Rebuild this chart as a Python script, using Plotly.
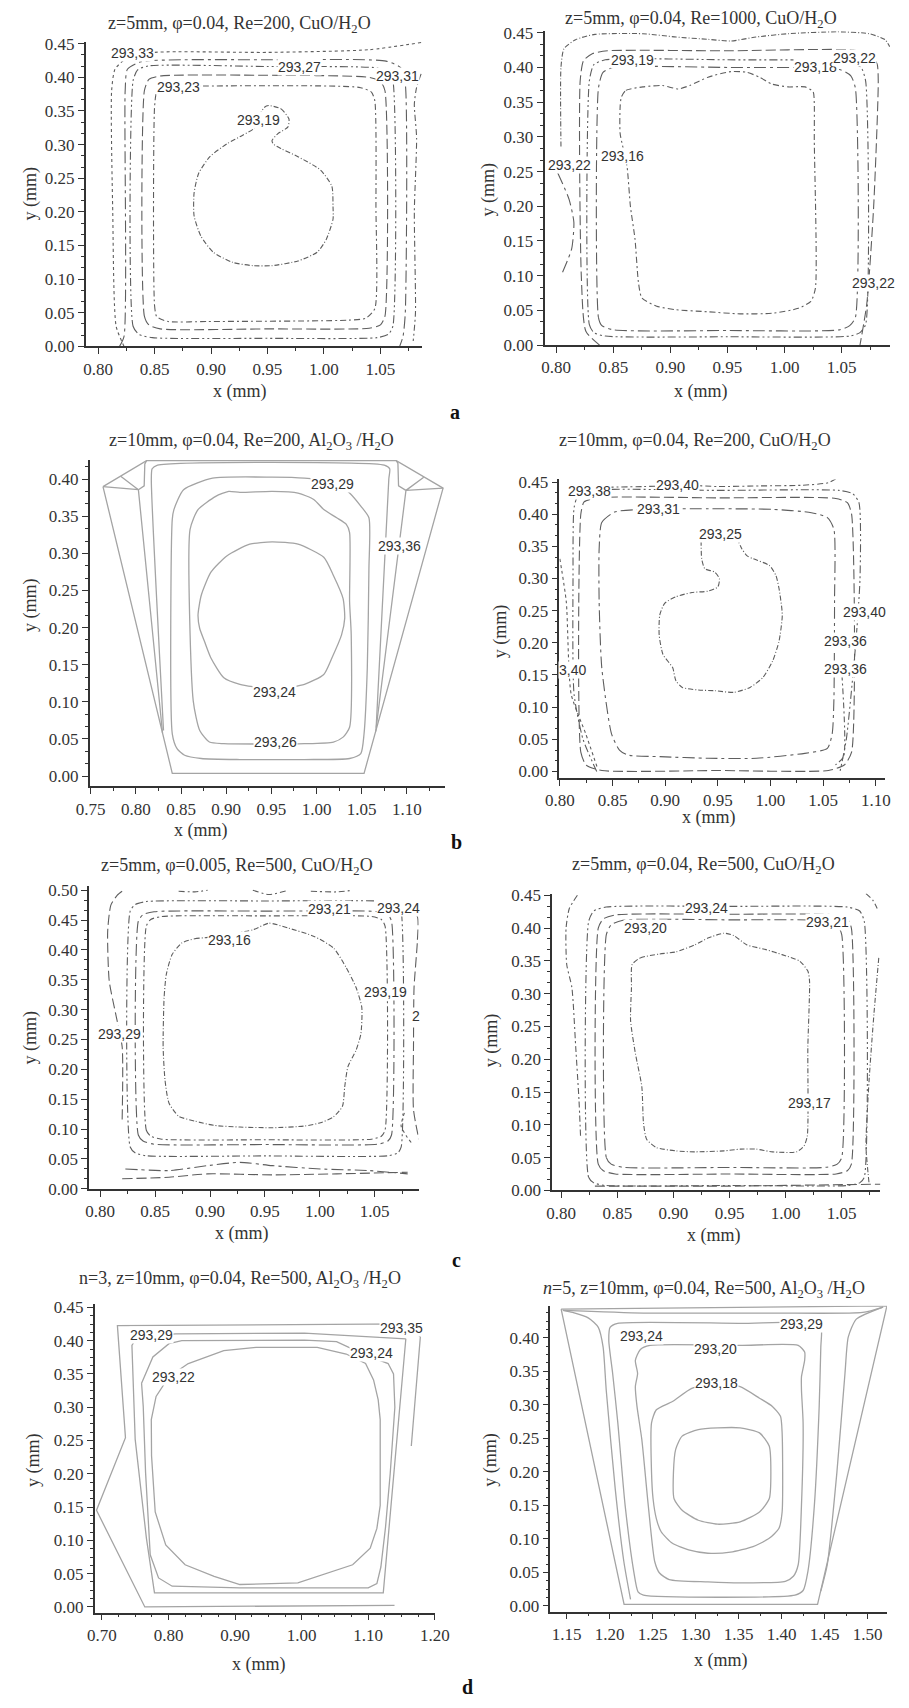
import plotly.graph_objects as go

W, H = 909, 1708
SERIF = "Liberation Serif, Times New Roman, serif"
SANS = "Liberation Sans, Arial, sans-serif"
INK = "#333333"
DARK = "#5e5e5e"
LIGHT = "#a4a4a4"

# ---------------- (a) left: z=5mm, phi=0.04, Re=200, CuO/H2O ----------------
a1_core_x = [0.951, 0.962, 0.969, 0.968, 0.959, 0.954, 0.955, 0.962, 0.977, 0.997, 1.007, 1.008, 1.008, 1.002, 0.994, 0.977, 0.954, 0.937, 0.919, 0.902, 0.891, 0.885, 0.885, 0.889, 0.899, 0.914, 0.928, 0.938, 0.942, 0.947, 0.951]
a1_core_y = [0.358, 0.353, 0.338, 0.326, 0.316, 0.306, 0.301, 0.294, 0.282, 0.262, 0.238, 0.208, 0.189, 0.159, 0.140, 0.127, 0.120, 0.120, 0.125, 0.140, 0.164, 0.194, 0.228, 0.257, 0.282, 0.301, 0.314, 0.324, 0.341, 0.355, 0.358]
a1_ring1_x = [0.850, 0.850, 0.852, 0.862, 0.897, 1.022, 1.037, 1.045, 1.046, 1.045, 1.042, 1.031, 0.897, 0.859, 0.852, 0.850]
a1_ring1_y = [0.355, 0.061, 0.044, 0.037, 0.037, 0.039, 0.042, 0.056, 0.208, 0.365, 0.378, 0.385, 0.387, 0.385, 0.378, 0.355]
a1_ring2_x = [0.841, 0.841, 0.845, 0.855, 0.95, 1.040, 1.050, 1.054, 1.054, 1.050, 1.040, 0.95, 0.855, 0.845, 0.841]
a1_ring2_y = [0.380, 0.045, 0.032, 0.026, 0.026, 0.027, 0.032, 0.045, 0.380, 0.394, 0.400, 0.403, 0.402, 0.397, 0.380]
a1_ring3_x = [0.831, 0.831, 0.836, 0.848, 0.95, 1.047, 1.057, 1.061, 1.061, 1.057, 1.047, 0.95, 0.845, 0.835, 0.831]
a1_ring3_y = [0.395, 0.030, 0.018, 0.013, 0.012, 0.013, 0.018, 0.030, 0.395, 0.408, 0.414, 0.416, 0.417, 0.411, 0.395]
a1_ring4_x = [0.819, 0.823, 0.824, 0.826, 0.838, 0.95, 1.055, 1.068, 1.072, 1.072, 1.070, 1.067]
a1_ring4_y = [0.0, 0.015, 0.380, 0.412, 0.423, 0.426, 0.424, 0.414, 0.390, 0.050, 0.015, 0.0]
a1_ring5_x = [0.823, 0.816, 0.813, 0.812, 0.815, 0.825, 0.85, 0.95, 1.04, 1.087]
a1_ring5_y = [0.0, 0.03, 0.2, 0.38, 0.412, 0.428, 0.437, 0.437, 0.441, 0.452]
a1_edge_x = [1.086, 1.082, 1.080, 1.082, 1.080, 1.081, 1.079]
a1_edge_y = [0.405, 0.385, 0.36, 0.31, 0.2, 0.05, 0.008]
a1_lab_text = ["293,33", "293,27", "293,31", "293,23", "293,19"]
a1_lab_x = [0.8303, 0.978, 1.0651, 0.8714, 0.9423]
a1_lab_y = [0.4363, 0.4152, 0.402, 0.3863, 0.3358]

# ---------------- (a) right: z=5mm, phi=0.04, Re=1000, CuO/H2O ----------------
a2_core_x = [0.857, 0.861, 0.876, 0.893, 0.907, 0.917, 0.933, 0.953, 0.967, 0.978, 0.989, 1.003, 1.018, 1.025, 1.026, 1.026, 1.027, 1.023, 1.012, 0.99, 0.961, 0.933, 0.905, 0.888, 0.875, 0.872, 0.869, 0.865, 0.862, 0.856, 0.856, 0.857]
a2_core_y = [0.357, 0.367, 0.372, 0.374, 0.369, 0.374, 0.386, 0.394, 0.393, 0.386, 0.376, 0.372, 0.372, 0.365, 0.348, 0.296, 0.082, 0.063, 0.053, 0.046, 0.045, 0.048, 0.051, 0.056, 0.068, 0.091, 0.153, 0.2, 0.258, 0.305, 0.343, 0.357]
a2_ring1_x = [0.837, 0.837, 0.840, 0.850, 0.95, 1.048, 1.057, 1.062, 1.062, 1.058, 1.048, 0.95, 0.850, 0.841, 0.837]
a2_ring1_y = [0.37, 0.04, 0.028, 0.022, 0.021, 0.022, 0.028, 0.04, 0.37, 0.388, 0.397, 0.400, 0.400, 0.393, 0.37]
a2_ring2_x = [0.829, 0.829, 0.833, 0.843, 0.95, 1.057, 1.066, 1.071, 1.071, 1.067, 1.057, 0.95, 0.843, 0.833, 0.829]
a2_ring2_y = [0.38, 0.03, 0.018, 0.013, 0.012, 0.013, 0.018, 0.03, 0.38, 0.400, 0.408, 0.411, 0.411, 0.404, 0.38]
a2_ring3_x = [0.838, 0.826, 0.822, 0.821, 0.824, 0.832, 0.845, 0.95, 1.06, 1.075, 1.081, 1.082, 1.078, 1.072, 1.066]
a2_ring3_y = [0.0, 0.02, 0.10, 0.38, 0.41, 0.420, 0.424, 0.424, 0.425, 0.418, 0.405, 0.38, 0.20, 0.06, 0.0]
a2_outer_x = [0.8042, 0.8042, 0.8068, 0.817, 0.834, 0.876, 0.905, 0.933, 0.953, 0.975, 1.003, 1.046, 1.074, 1.088, 1.092]
a2_outer_y = [0.286, 0.400, 0.4268, 0.440, 0.4476, 0.4486, 0.4438, 0.4405, 0.4381, 0.4438, 0.4486, 0.4514, 0.4486, 0.440, 0.430]
a2_arc_x = [0.8014, 0.8113, 0.8155, 0.8136, 0.8056]
a2_arc_y = [0.248, 0.21, 0.177, 0.139, 0.105]
a2_lab_text = ["293,19", "293,18", "293,22", "293,22", "293,16"]
a2_lab_x = [0.8664, 1.0274, 1.0613, 0.8119, 0.8579]
a2_lab_y = [0.4105, 0.401, 0.4143, 0.26, 0.2727]
a2_edge_lab_x = [1.058]
a2_edge_lab_y = [0.089]

# ---------------- (b) left: z=10mm, phi=0.04, Re=200, Al2O3/H2O ----------------
b1_edge_x = [0.7636, 0.8403, 1.0526, 1.1401, 1.0883, 0.8118, 0.7636]
b1_edge_y = [0.390, 0.0036, 0.0036, 0.388, 0.4249, 0.4249, 0.390]
b1_wedge_l_x = [0.7636, 0.8028, 0.7832]
b1_wedge_l_y = [0.390, 0.3858, 0.404]
b1_wedge_r_x = [1.1401, 1.099, 1.1187]
b1_wedge_r_y = [0.388, 0.3849, 0.4027]
b1_side_l_x = [0.8118, 0.8099, 0.8092, 0.8028, 0.8295]
b1_side_l_y = [0.4249, 0.4205, 0.391, 0.3858, 0.058]
b1_side_r_x = [1.0883, 1.0901, 1.0908, 1.099, 1.0655]
b1_side_r_y = [0.4249, 0.4213, 0.391, 0.3849, 0.06]
b1_ring36_x = [0.8306, 0.8171, 0.818, 0.824, 1.075, 1.081, 1.080, 1.066]
b1_ring36_y = [0.0613, 0.40, 0.414, 0.419, 0.419, 0.414, 0.40, 0.065]
b1_ring29_x = [0.8403, 0.8421, 0.8528, 0.8849, 0.9509, 0.9866, 1.0223, 1.0366, 1.049, 1.058, 1.058, 1.0562, 1.0526, 1.049, 1.0366, 0.9866, 0.9152, 0.8724, 0.8540, 0.8456, 0.8403, 0.8403]
b1_ring29_y = [0.3458, 0.359, 0.3858, 0.4013, 0.4027, 0.4013, 0.3947, 0.3813, 0.3636, 0.348, 0.279, 0.1458, 0.0569, 0.0302, 0.0236, 0.0222, 0.0222, 0.0236, 0.0280, 0.0369, 0.0569, 0.3458]
b1_ring26_x = [0.86, 0.8688, 0.8884, 0.9028, 0.9152, 0.9509, 0.9795, 0.9973, 1.008, 1.0223, 1.033, 1.0366, 1.0366, 1.0384, 1.0366, 1.0294, 1.0187, 0.9866, 0.8974, 0.8814, 0.8707, 0.8635, 0.86]
b1_ring26_y = [0.3324, 0.359, 0.3769, 0.3836, 0.3822, 0.3836, 0.3813, 0.3724, 0.3591, 0.348, 0.3391, 0.328, 0.2347, 0.1902, 0.0658, 0.0524, 0.0458, 0.0436, 0.0436, 0.0458, 0.0613, 0.1013, 0.3324]
b1_ring24_x = [0.8688, 0.8724, 0.8831, 0.901, 0.926, 0.9509, 0.9795, 1.008, 1.0187, 1.0294, 1.0312, 1.0277, 1.017, 1.008, 0.9866, 0.9616, 0.9438, 0.9152, 0.8974, 0.8831, 0.876, 0.8706, 0.8688]
b1_ring24_y = [0.2169, 0.2436, 0.2747, 0.2969, 0.3124, 0.3156, 0.3124, 0.2947, 0.2702, 0.2391, 0.2124, 0.1902, 0.1591, 0.1369, 0.1236, 0.1182, 0.1182, 0.1236, 0.1324, 0.1591, 0.1813, 0.1991, 0.2169]
b1_lab_text = ["293,29", "293,36", "293,24", "293,26"]
b1_lab_x = [1.018, 1.0919, 0.9538, 0.9545]
b1_lab_y = [0.3938, 0.3093, 0.1138, 0.0458]

# ---------------- (b) right: z=10mm, phi=0.04, Re=200, CuO/H2O ----------------
b2_core_x = [0.9341, 0.9347, 0.9377, 0.9469, 0.9515, 0.95, 0.9408, 0.9255, 0.9102, 0.8995, 0.8949, 0.8943, 0.8979, 0.9071, 0.9102, 0.9163, 0.9316, 0.9469, 0.9653, 0.9806, 0.9928, 1.002, 1.0081, 1.0112, 1.0081, 1.0051, 0.999, 0.9837, 0.9775, 0.9729, 0.9699]
b2_core_y = [0.3588, 0.3306, 0.3152, 0.3101, 0.2998, 0.287, 0.2804, 0.2783, 0.2717, 0.2614, 0.2435, 0.2127, 0.182, 0.1615, 0.141, 0.1307, 0.1266, 0.1256, 0.123, 0.1307, 0.1461, 0.1717, 0.2025, 0.2435, 0.2845, 0.305, 0.3203, 0.3306, 0.3357, 0.346, 0.3562]
b2_ring31_x = [0.8373, 0.8398, 0.852, 0.8796, 0.9408, 1.002, 1.0388, 1.054, 1.0602, 1.0608, 1.0602, 1.0586, 1.054, 1.0326, 0.9867, 0.9408, 0.8949, 0.8643, 0.8566, 0.849, 0.8398, 0.8373, 0.8373]
b2_ring31_y = [0.346, 0.387, 0.4034, 0.4075, 0.4085, 0.4075, 0.4024, 0.3947, 0.3767, 0.264, 0.1102, 0.0589, 0.0359, 0.0282, 0.0205, 0.0205, 0.0231, 0.0256, 0.0333, 0.0589, 0.1615, 0.264, 0.346]
b2_ring38_x = [0.8199, 0.8199, 0.825, 0.84, 0.95, 1.055, 1.070, 1.077, 1.077, 1.073, 1.062, 0.95, 0.835, 0.823, 0.8199]
b2_ring38_y = [0.40, 0.03, 0.010, 0.0015, 0.0015, 0.0015, 0.010, 0.03, 0.40, 0.418, 0.4245, 0.4254, 0.4254, 0.419, 0.40]
b2_ring40_x = [0.835, 0.822, 0.8135, 0.8125, 0.8135, 0.817, 0.83, 0.95, 1.065, 1.078, 1.084, 1.085, 1.081, 1.072, 1.066]
b2_ring40_y = [0.0, 0.05, 0.12, 0.30, 0.41, 0.428, 0.437, 0.437, 0.437, 0.432, 0.418, 0.30, 0.20, 0.05, 0.0]
b2_top_x = [0.845, 0.88, 0.92, 0.95, 0.99, 1.03, 1.055, 1.063]
b2_top_y = [0.442, 0.443, 0.445, 0.443, 0.444, 0.445, 0.449, 0.456]
b2_left_x = [0.80, 0.8061, 0.8107, 0.8245, 0.8352]
b2_left_y = [0.3306, 0.264, 0.1205, 0.0589, 0.0077]
b2_hook_x = [1.0678, 1.0694, 1.0617]
b2_hook_y = [0.1512, 0.0231, 0.0103]
b2_lab_text = ["293,38", "293,40", "293,31", "293,25", "293,40", "293,36", "293,36", "3,40"]
b2_lab_x = [0.8282, 0.9117, 0.8934, 0.953, 1.0893, 1.0709, 1.0709, 0.8116]
b2_lab_y = [0.4357, 0.4459, 0.4075, 0.369, 0.2486, 0.2025, 0.1589, 0.1574]

# ---------------- (c) left: z=5mm, phi=0.005, Re=500, CuO/H2O ----------------
c1_core_x = [0.8743, 0.8861, 0.8978, 0.939, 0.9536, 0.9713, 0.9948, 1.0124, 1.0241, 1.033, 1.0382, 1.0374, 1.033, 1.0256, 1.0227, 1.0206, 1.0124, 1.0006, 0.986, 0.9566, 0.9272, 0.9037, 0.8861, 0.8714, 0.8626, 0.859, 0.8573, 0.8582, 0.8602, 0.8655, 0.8743]
c1_core_y = [0.4116, 0.4188, 0.421, 0.4337, 0.4448, 0.4365, 0.4227, 0.4033, 0.3702, 0.337, 0.3039, 0.2597, 0.232, 0.2044, 0.1713, 0.1381, 0.1204, 0.1105, 0.105, 0.1022, 0.1033, 0.1061, 0.1133, 0.1215, 0.1436, 0.1823, 0.2376, 0.3204, 0.3591, 0.3923, 0.4116]
c1_ring1_x = [0.842, 0.842, 0.846, 0.856, 0.95, 1.047, 1.056, 1.0594, 1.0594, 1.056, 1.047, 0.95, 0.856, 0.846, 0.842]
c1_ring1_y = [0.44, 0.098, 0.088, 0.083, 0.082, 0.083, 0.088, 0.098, 0.44, 0.451, 0.456, 0.457, 0.456, 0.451, 0.44]
c1_ring2_x = [0.8347, 0.8347, 0.839, 0.849, 0.95, 1.053, 1.062, 1.0653, 1.0653, 1.062, 1.053, 0.95, 0.849, 0.839, 0.8347]
c1_ring2_y = [0.448, 0.09, 0.08, 0.0746, 0.074, 0.0746, 0.08, 0.09, 0.448, 0.459, 0.464, 0.465, 0.464, 0.459, 0.448]
c1_ring3_x = [0.8273, 0.8273, 0.832, 0.842, 0.95, 1.062, 1.071, 1.0741, 1.0741, 1.071, 1.062, 0.95, 0.842, 0.832, 0.8273]
c1_ring3_y = [0.465, 0.07, 0.06, 0.0552, 0.055, 0.0552, 0.06, 0.07, 0.465, 0.476, 0.481, 0.482, 0.481, 0.476, 0.465]
c1_wall_l_x = [0.82, 0.82, 0.8141, 0.8082, 0.8068, 0.8097, 0.8156, 0.82]
c1_wall_l_y = [0.116, 0.2376, 0.2928, 0.3481, 0.4309, 0.4751, 0.4917, 0.4983]
c1_wall_r_x = [1.0785, 1.0888, 1.0888, 1.0858, 1.0853, 1.0853, 1.0902]
c1_wall_r_y = [0.4724, 0.4558, 0.4144, 0.337, 0.2376, 0.1326, 0.0829]
c1_hook_x = [1.077, 1.074, 1.0788, 1.0832]
c1_hook_y = [0.127, 0.105, 0.0884, 0.0773]
c1_top_x = [0.8714, 0.8861, 0.8978, None, 0.939, 0.9536, 0.9713, None, 0.9918, 1.0153, 1.03]
c1_top_y = [0.4983, 0.4972, 0.5, None, 0.5, 0.4928, 0.5, None, 0.4983, 0.4972, 0.5]
c1_floor1_x = [0.8229, 0.8626, 0.8978, 0.9272, 0.9566, 1.0006, 1.0447, 1.08]
c1_floor1_y = [0.0331, 0.0304, 0.0387, 0.0442, 0.0387, 0.0331, 0.0304, 0.0249]
c1_floor2_x = [0.82, 0.8626, 0.8978, 0.9566, 1.0153, 1.08]
c1_floor2_y = [0.0166, 0.0193, 0.0249, 0.0232, 0.0249, 0.0277]
c1_lab_text = ["293,21", "293,24", "293,16", "293,19", "293,29", "2"]
c1_lab_x = [1.0089, 1.0717, 0.9178, 1.0594, 0.8179, 1.0873]
c1_lab_y = [0.4685, 0.4696, 0.4171, 0.3287, 0.2597, 0.29]

# ---------------- (c) right: z=5mm, phi=0.04, Re=500, CuO/H2O ----------------
c2_core_x = [0.8632, 0.8704, 0.8876, 0.902, 0.9193, 0.9307, 0.9451, 0.9537, 0.9652, 0.9825, 0.9968, 1.0126, 1.0198, 1.0213, 1.0198, 1.0193, 1.0164, 1.0098, 0.9882, 0.9739, 0.9595, 0.9451, 0.9193, 0.902, 0.8848, 0.8761, 0.8733, 0.8718, 0.8661, 0.8618, 0.8626, 0.8632]
c2_core_y = [0.3444, 0.3545, 0.3605, 0.3636, 0.3746, 0.3847, 0.3922, 0.3887, 0.3746, 0.3671, 0.3595, 0.3495, 0.3344, 0.3193, 0.2187, 0.083, 0.0679, 0.0588, 0.0588, 0.0629, 0.0629, 0.0603, 0.0588, 0.0603, 0.0654, 0.0779, 0.1031, 0.1584, 0.2087, 0.259, 0.3092, 0.3444]
c2_ring1_x = [0.8402, 0.8402, 0.8445, 0.855, 0.95, 1.036, 1.046, 1.05, 1.05, 1.046, 1.036, 0.95, 0.855, 0.8445, 0.8402]
c2_ring1_y = [0.39, 0.05, 0.04, 0.0352, 0.035, 0.0352, 0.04, 0.05, 0.39, 0.405, 0.411, 0.4125, 0.412, 0.405, 0.39]
c2_ring2_x = [0.833, 0.833, 0.8375, 0.848, 0.95, 1.045, 1.055, 1.0586, 1.0586, 1.055, 1.045, 0.95, 0.848, 0.8375, 0.833]
c2_ring2_y = [0.40, 0.04, 0.03, 0.0251, 0.025, 0.0251, 0.03, 0.04, 0.40, 0.414, 0.42, 0.421, 0.42, 0.414, 0.40]
c2_ring3_x = [0.8244, 0.8244, 0.829, 0.84, 0.95, 1.055, 1.066, 1.0701, 1.0701, 1.066, 1.055, 0.95, 0.84, 0.829, 0.8244]
c2_ring3_y = [0.41, 0.02, 0.0115, 0.0075, 0.0075, 0.0075, 0.0115, 0.02, 0.41, 0.426, 0.432, 0.433, 0.432, 0.426, 0.41]
c2_wall_l_x = [0.8144, 0.8072, 0.8043, 0.8049, 0.8095, 0.8129, 0.8158, 0.8172]
c2_wall_l_y = [0.45, 0.4299, 0.3998, 0.3444, 0.3092, 0.2187, 0.1383, 0.083]
c2_corner_x = [1.0716, 1.0775, 1.0816]
c2_corner_y = [0.4526, 0.443, 0.43]
c2_wall_r_x = [1.083, 1.0787, 1.0744, 1.0716, 1.0744]
c2_wall_r_y = [0.3545, 0.269, 0.1684, 0.0679, 0.0101]
c2_floor_x = [0.83, 0.95, 1.0845]
c2_floor_y = [0.0065, 0.0065, 0.0095]
c2_lab_text = ["293,24", "293,21", "293,20", "293,17"]
c2_lab_x = [0.9293, 1.0376, 0.8747, 1.0213]
c2_lab_y = [0.4309, 0.4098, 0.3998, 0.1333]

# ---------------- (d) left: n=3, z=10mm, phi=0.04, Re=500, Al2O3/H2O ----------------
d1_edge_x = [1.1395, 0.7644, 0.6918, 0.7353, 0.7232, 1.16, 1.1783, 1.1647]
d1_edge_y = [0.0025, 0.0, 0.1452, 0.2542, 0.4227, 0.4252, 0.4054, 0.2418]
d1_ring29_x = [1.1565, 1.1474, 1.1341, 1.1226, 0.7789, 0.7668, 0.7499, 0.745, 0.7523, 0.8104, 1.004, 1.1565]
d1_ring29_y = [0.4029, 0.30, 0.15, 0.0213, 0.0213, 0.1031, 0.2518, 0.393, 0.4054, 0.4103, 0.4113, 0.4029]
d1_ring24_x = [0.7595, 0.7765, 0.8007, 0.82, 1.004, 1.0524, 1.0911, 1.1299, 1.138, 1.140, 1.133, 1.126, 1.119, 1.113, 1.10, 0.9072, 0.8055, 0.785, 0.7725, 0.7655, 0.762, 0.7595]
d1_ring24_y = [0.336, 0.3757, 0.3955, 0.400, 0.401, 0.3985, 0.3806, 0.3657, 0.350, 0.30, 0.20, 0.12, 0.06, 0.035, 0.0287, 0.0287, 0.0312, 0.0436, 0.0783, 0.2022, 0.3013, 0.336]
d1_ring22_x = [0.8297, 0.883, 0.9314, 1.0234, 1.0669, 1.096, 1.108, 1.115, 1.118, 1.118, 1.113, 1.103, 1.0766, 1.0331, 0.9943, 0.9072, 0.8685, 0.8249, 0.7958, 0.7800, 0.7745, 0.7741, 0.7813, 0.8007, 0.8297]
d1_ring22_y = [0.3657, 0.385, 0.390, 0.390, 0.380, 0.3657, 0.341, 0.3112, 0.2815, 0.1526, 0.118, 0.0882, 0.0634, 0.0486, 0.0362, 0.0337, 0.0461, 0.0634, 0.0932, 0.1427, 0.227, 0.2815, 0.3162, 0.3459, 0.3657]
d1_lab_text = ["293,29", "293,35", "293,24", "293,22"]
d1_lab_x = [0.7741, 1.1507, 1.1047, 0.808]
d1_lab_y = [0.4079, 0.4193, 0.3816, 0.3459]

# ---------------- (d) right: n=5, z=10mm, phi=0.04, Re=500, Al2O3/H2O ----------------
d2_edge_x = [1.1436, 1.2168, 1.4418, 1.5225, 1.1436]
d2_edge_y = [0.4428, 0.0025, 0.0025, 0.4477, 0.4428]
d2_left_x = [1.1456, 1.1568, 1.1755, 1.1868, 1.1924, 1.196, 1.2065, 1.2165, 1.2243]
d2_left_y = [0.441, 0.4379, 0.4295, 0.4157, 0.3862, 0.3223, 0.1747, 0.0664, 0.0098]
d2_top_x = [1.1456, 1.2393, 1.3893, 1.4944, 1.518]
d2_top_y = [0.441, 0.437, 0.437, 0.438, 0.446]
d2_right_x = [1.518, 1.4869, 1.4775, 1.4737, 1.4643, 1.4531, 1.4456]
d2_right_y = [0.446, 0.428, 0.401, 0.3469, 0.1993, 0.0615, 0.0221]
d2_ring24_x = [1.199, 1.2005, 1.2093, 1.3518, 1.4418, 1.4463, 1.4456, 1.4437, 1.4381, 1.4306, 1.425, 1.4156, 1.2393, 1.233, 1.228, 1.218, 1.2095, 1.2035, 1.199]
d2_ring24_y = [0.3961, 0.4157, 0.4217, 0.4217, 0.4217, 0.4133, 0.3862, 0.2977, 0.1501, 0.0517, 0.0231, 0.0162, 0.0162, 0.0212, 0.0517, 0.1501, 0.2731, 0.3469, 0.3961]
d2_ring20_x = [1.2299, 1.2355, 1.2468, 1.3518, 1.4193, 1.4268, 1.4268, 1.4231, 1.4231, 1.425, 1.4231, 1.4193, 1.4137, 1.4043, 1.3518, 1.3143, 1.2693, 1.258, 1.2524, 1.2449, 1.2374, 1.2318, 1.2299, 1.2325, 1.2299]
d2_ring20_y = [0.3665, 0.3823, 0.3887, 0.3887, 0.3887, 0.3788, 0.3665, 0.3419, 0.3223, 0.2731, 0.1501, 0.0615, 0.0443, 0.0369, 0.0344, 0.0359, 0.0394, 0.0492, 0.0664, 0.1501, 0.2485, 0.2977, 0.3272, 0.3469, 0.3665]
d2_ring18_x = [1.2487, 1.2543, 1.273, 1.2955, 1.3256, 1.3518, 1.3743, 1.3893, 1.3987, 1.4006, 1.4006, 1.3968, 1.3856, 1.3668, 1.3406, 1.3143, 1.2918, 1.273, 1.2599, 1.2543, 1.2505, 1.2487, 1.2487]
d2_ring18_y = [0.2731, 0.2927, 0.305, 0.3247, 0.3321, 0.3272, 0.31, 0.2977, 0.2829, 0.2583, 0.1402, 0.1156, 0.1009, 0.0886, 0.0802, 0.0787, 0.0836, 0.0935, 0.1107, 0.1304, 0.1599, 0.1993, 0.2731]
d2_core_x = [1.2768, 1.2843, 1.3031, 1.3256, 1.3518, 1.3743, 1.3856, 1.3875, 1.3856, 1.3743, 1.3518, 1.3256, 1.3031, 1.2843, 1.2749, 1.2742, 1.2768]
d2_core_y = [0.2337, 0.2534, 0.2632, 0.2657, 0.2657, 0.2583, 0.2386, 0.1993, 0.1599, 0.1402, 0.1255, 0.122, 0.1279, 0.1427, 0.1599, 0.1993, 0.2337]
d2_lab_text = ["293,24", "293,20", "293,18", "293,29"]
d2_lab_x = [1.2374, 1.3226, 1.3237, 1.4231]
d2_lab_y = [0.4034, 0.3838, 0.3321, 0.4207]

# ---------------- page layout ----------------
# plot frames in page pixels: left, right, top, bottom
FRAMES = [
    (74.0, 421.7, 34.0, 342.0),
    (548.0, 905.0, 23.6, 340.7),
    (78.3, 445.0, 456.7, 786.7),
    (563.3, 900.0, 476.5, 778.3),
    (77.7, 418.0, 887.4, 1193.3),
    (556.0, 895.0, 895.0, 1195.0),
    (83.3, 435.0, 1309.9, 1621.7),
    (554.0, 901.7, 1311.5, 1620.7),
]
X_RANGES = [(0.789, 1.087), (0.7898, 1.0924), (0.749, 1.142), (0.7995, 1.109),
            (0.790, 1.090), (0.792, 1.0845), (0.689, 1.2005), (1.131, 1.5225)]
Y_RANGES = [(0.0, 0.453), (0.0, 0.452), (-0.014, 0.426), (-0.0103, 0.454),
            (0.0, 0.507), (0.0, 0.4526), (-0.0085, 0.455), (-0.0084, 0.448)]
X_TICK0 = [0.80, 0.80, 0.75, 0.80, 0.80, 0.80, 0.70, 1.15]
X_DTICK = [0.05, 0.05, 0.05, 0.05, 0.05, 0.05, 0.10, 0.05]
Y_MINOR = [0.05 / 3] * 6 + [0.0125, 0.0125]

TITLES = [
    (233, 17, "z=5mm, φ=0.04, Re=200, CuO/H<sub>2</sub>O"),
    (710, 12, "z=5mm, φ=0.04, Re=1000, CuO/H<sub>2</sub>O"),
    (245, 438, "z=10mm, φ=0.04, Re=200, Al<sub>2</sub>O<sub>3</sub> /H<sub>2</sub>O"),
    (703, 438, "z=10mm, φ=0.04, Re=200, CuO/H<sub>2</sub>O"),
    (230, 868, "z=5mm, φ=0.005, Re=500, CuO/H<sub>2</sub>O"),
    (712, 867, "z=5mm, φ=0.04, Re=500, CuO/H<sub>2</sub>O"),
    (233, 1285, "n=3, z=10mm, φ=0.04, Re=500, Al<sub>2</sub>O<sub>3</sub> /H<sub>2</sub>O"),
    (713, 1295, "<i>n</i>=5, z=10mm, φ=0.04, Re=500, Al<sub>2</sub>O<sub>3</sub> /H<sub>2</sub>O"),
]
X_TITLES = [(233, 388), (710, 388), (193, 831), (718, 818), (235, 1239), (723, 1241), (253, 1674), (730, 1670)]
Y_TITLES = [(17, 187), (490, 183), (17, 603), (502, 630), (17, 1040), (493, 1043), (20, 1467), (492, 1467)]
LETTERS = [(456, 408, "a"), (457, 843, "b"), (457, 1265, "c"), (468, 1697, "d")]

D1 = "6px,3px,2px,3px"
D2 = "10px,4px"
D3 = "8px,3px,2px,3px,2px,3px"
D4 = "12px,4px,3px,4px"
D5 = "3px,3px"
D6 = "5px,2px,1px,2px"

# (panel, x, y, colour, width, dash, shape)
LINES = [
    (0, a1_core_x, a1_core_y, DARK, 1.1, D6, "spline"),
    (0, a1_ring1_x, a1_ring1_y, DARK, 1.1, D1, "spline"),
    (0, a1_ring2_x, a1_ring2_y, DARK, 1.1, D2, "spline"),
    (0, a1_ring3_x, a1_ring3_y, DARK, 1.1, D3, "spline"),
    (0, a1_ring4_x, a1_ring4_y, DARK, 1.1, D4, "spline"),
    (0, a1_ring5_x, a1_ring5_y, DARK, 1.1, D5, "spline"),
    (0, a1_edge_x, a1_edge_y, DARK, 1.1, D1, "spline"),
    (1, a2_core_x, a2_core_y, DARK, 1.1, D1, "spline"),
    (1, a2_ring1_x, a2_ring1_y, DARK, 1.1, D4, "spline"),
    (1, a2_ring2_x, a2_ring2_y, DARK, 1.1, D3, "spline"),
    (1, a2_ring3_x, a2_ring3_y, DARK, 1.1, D2, "spline"),
    (1, a2_outer_x, a2_outer_y, DARK, 1.1, D6, "spline"),
    (1, a2_arc_x, a2_arc_y, DARK, 1.1, D4, "spline"),
    (2, b1_edge_x, b1_edge_y, LIGHT, 1.3, "solid", "linear"),
    (2, b1_wedge_l_x, b1_wedge_l_y, LIGHT, 1.3, "solid", "linear"),
    (2, b1_wedge_r_x, b1_wedge_r_y, LIGHT, 1.3, "solid", "linear"),
    (2, b1_side_l_x, b1_side_l_y, LIGHT, 1.3, "solid", "linear"),
    (2, b1_side_r_x, b1_side_r_y, LIGHT, 1.3, "solid", "linear"),
    (2, b1_ring36_x, b1_ring36_y, LIGHT, 1.3, "solid", "spline"),
    (2, b1_ring29_x, b1_ring29_y, LIGHT, 1.3, "solid", "spline"),
    (2, b1_ring26_x, b1_ring26_y, LIGHT, 1.3, "solid", "spline"),
    (2, b1_ring24_x, b1_ring24_y, LIGHT, 1.3, "solid", "spline"),
    (3, b2_core_x, b2_core_y, DARK, 1.1, D6, "spline"),
    (3, b2_ring31_x, b2_ring31_y, DARK, 1.1, D4, "spline"),
    (3, b2_ring38_x, b2_ring38_y, DARK, 1.1, D2, "spline"),
    (3, b2_ring40_x, b2_ring40_y, DARK, 1.1, D3, "spline"),
    (3, b2_top_x, b2_top_y, DARK, 1.1, D1, "spline"),
    (3, b2_left_x, b2_left_y, DARK, 1.1, D5, "spline"),
    (3, b2_hook_x, b2_hook_y, DARK, 1.1, D1, "spline"),
    (4, c1_core_x, c1_core_y, DARK, 1.1, D6, "spline"),
    (4, c1_ring1_x, c1_ring1_y, DARK, 1.1, D1, "spline"),
    (4, c1_ring2_x, c1_ring2_y, DARK, 1.1, D4, "spline"),
    (4, c1_ring3_x, c1_ring3_y, DARK, 1.1, D3, "spline"),
    (4, c1_wall_l_x, c1_wall_l_y, DARK, 1.1, D2, "spline"),
    (4, c1_wall_r_x, c1_wall_r_y, DARK, 1.1, D2, "spline"),
    (4, c1_hook_x, c1_hook_y, DARK, 1.1, D5, "spline"),
    (4, c1_top_x, c1_top_y, DARK, 1.1, D1, "spline"),
    (4, c1_floor1_x, c1_floor1_y, DARK, 1.1, D4, "spline"),
    (4, c1_floor2_x, c1_floor2_y, DARK, 1.1, D2, "spline"),
    (5, c2_core_x, c2_core_y, DARK, 1.1, D6, "spline"),
    (5, c2_ring1_x, c2_ring1_y, DARK, 1.1, D4, "spline"),
    (5, c2_ring2_x, c2_ring2_y, DARK, 1.1, D2, "spline"),
    (5, c2_ring3_x, c2_ring3_y, DARK, 1.1, D3, "spline"),
    (5, c2_wall_l_x, c2_wall_l_y, DARK, 1.1, D1, "spline"),
    (5, c2_corner_x, c2_corner_y, DARK, 1.1, D1, "spline"),
    (5, c2_wall_r_x, c2_wall_r_y, DARK, 1.1, D6, "spline"),
    (5, c2_floor_x, c2_floor_y, DARK, 1.1, D2, "linear"),
    (6, d1_edge_x, d1_edge_y, LIGHT, 1.3, "solid", "linear"),
    (6, d1_ring29_x, d1_ring29_y, LIGHT, 1.3, "solid", "linear"),
    (6, d1_ring24_x, d1_ring24_y, LIGHT, 1.3, "solid", "linear"),
    (6, d1_ring22_x, d1_ring22_y, LIGHT, 1.3, "solid", "linear"),
    (7, d2_edge_x, d2_edge_y, LIGHT, 1.3, "solid", "linear"),
    (7, d2_left_x, d2_left_y, LIGHT, 1.3, "solid", "spline"),
    (7, d2_top_x, d2_top_y, LIGHT, 1.3, "solid", "spline"),
    (7, d2_right_x, d2_right_y, LIGHT, 1.3, "solid", "spline"),
    (7, d2_ring24_x, d2_ring24_y, LIGHT, 1.3, "solid", "spline"),
    (7, d2_ring20_x, d2_ring20_y, LIGHT, 1.3, "solid", "spline"),
    (7, d2_ring18_x, d2_ring18_y, LIGHT, 1.3, "solid", "spline"),
    (7, d2_core_x, d2_core_y, LIGHT, 1.3, "solid", "spline"),
]

LABELS = [
    (0, a1_lab_text, a1_lab_x, a1_lab_y),
    (1, a2_lab_text, a2_lab_x, a2_lab_y),
    (2, b1_lab_text, b1_lab_x, b1_lab_y),
    (3, b2_lab_text, b2_lab_x, b2_lab_y),
    (4, c1_lab_text, c1_lab_x, c1_lab_y),
    (5, c2_lab_text, c2_lab_x, c2_lab_y),
    (6, d1_lab_text, d1_lab_x, d1_lab_y),
    (7, d2_lab_text, d2_lab_x, d2_lab_y),
]
LABEL_FONT = dict(family=SANS, size=14, color=INK)


def refs(i):
    s = "" if i == 0 else str(i + 1)
    return "x" + s, "y" + s


def px_x(p):
    return p / W


def px_y(p):
    return 1 - p / H


fig = go.Figure()

for panel, xs, ys, colour, width, dash, shape in LINES:
    xr, yr = refs(panel)
    line = dict(color=colour, width=width, dash=dash, shape=shape)
    if shape == "spline":
        line["smoothing"] = 0.6
    fig.add_trace(go.Scatter(x=xs, y=ys, mode="lines", line=line, xaxis=xr, yaxis=yr,
                             hoverinfo="skip", showlegend=False))

layout_axes = {}
for i, (l, r, t, b) in enumerate(FRAMES):
    xr, yr = refs(i)
    suffix = "" if i == 0 else str(i + 1)
    tickfont = dict(family=SERIF, size=17, color=INK)
    layout_axes["xaxis" + suffix] = dict(
        domain=[px_x(l), px_x(r)], range=list(X_RANGES[i]), anchor=yr,
        showline=True, linecolor=INK, linewidth=1.6, mirror=False,
        ticks="outside", ticklen=6, tickwidth=1.3, tickcolor=INK,
        tickmode="linear", tick0=X_TICK0[i], dtick=X_DTICK[i], tickformat=".2f",
        tickfont=tickfont, showgrid=False, zeroline=False, fixedrange=True,
        minor=dict(ticks="outside", ticklen=3, tickwidth=1, tickcolor=INK,
                   tick0=X_TICK0[i], dtick=0.025, showgrid=False),
    )
    layout_axes["yaxis" + suffix] = dict(
        domain=[px_y(b), px_y(t)], range=list(Y_RANGES[i]), anchor=xr,
        showline=True, linecolor=INK, linewidth=1.6, mirror=False,
        ticks="outside", ticklen=6, tickwidth=1.3, tickcolor=INK,
        tickmode="linear", tick0=0.0, dtick=0.05, tickformat=".2f",
        tickfont=tickfont, showgrid=False, zeroline=False, fixedrange=True,
        minor=dict(ticks="outside", ticklen=3, tickwidth=1, tickcolor=INK,
                   tick0=0.0, dtick=Y_MINOR[i], showgrid=False),
    )

annotations = []
for panel, texts, xs, ys in LABELS:
    xr, yr = refs(panel)
    for txt, x, y in zip(texts, xs, ys):
        annotations.append(dict(x=x, y=y, xref=xr, yref=yr, text=txt, showarrow=False,
                                font=LABEL_FONT, bgcolor="white", borderpad=0))
xr, yr = refs(1)
for x, y in zip(a2_edge_lab_x, a2_edge_lab_y):
    annotations.append(dict(x=x, y=y, xref=xr, yref=yr, text="293,22", showarrow=False,
                            xanchor="left", font=LABEL_FONT, bgcolor="white", borderpad=0))

for x, y, txt in TITLES:
    annotations.append(dict(x=px_x(x), y=px_y(y), xref="paper", yref="paper", text=txt,
                            showarrow=False, xanchor="center", yanchor="middle",
                            font=dict(family=SERIF, size=18, color=INK)))
for x, y in X_TITLES:
    annotations.append(dict(x=px_x(x), y=px_y(y), xref="paper", yref="paper", text="x (mm)",
                            showarrow=False, xanchor="center", yanchor="middle",
                            font=dict(family=SERIF, size=18, color=INK)))
for x, y in Y_TITLES:
    annotations.append(dict(x=px_x(x), y=px_y(y), xref="paper", yref="paper", text="y (mm)",
                            showarrow=False, xanchor="center", yanchor="middle", textangle=-90,
                            font=dict(family=SERIF, size=18, color=INK)))
for x, y, txt in LETTERS:
    annotations.append(dict(x=px_x(x), y=px_y(y), xref="paper", yref="paper",
                            text="<b>" + txt + "</b>", showarrow=False,
                            xanchor="center", yanchor="middle",
                            font=dict(family=SERIF, size=20, color="#111111")))

fig.update_layout(
    width=W, height=H, margin=dict(l=0, r=0, t=0, b=0),
    paper_bgcolor="white", plot_bgcolor="white",
    showlegend=False, annotations=annotations, **layout_axes,
)

fig.write_html("out.html")
